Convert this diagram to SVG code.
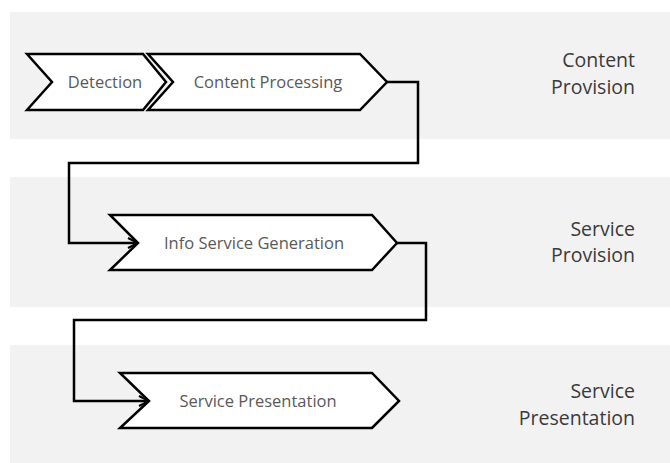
<svg xmlns="http://www.w3.org/2000/svg" width="670" height="463" viewBox="0 0 670 463">
<style>
.band{fill:#f2f2f2;}
.node{fill:#ffffff;stroke:#000000;stroke-width:2.5;stroke-linejoin:miter;}
.ntext{font-family:"Open Sans","Liberation Sans",sans-serif;font-size:16.5px;fill:#595959;text-anchor:middle;}
.ltext{font-family:"Open Sans","Liberation Sans",sans-serif;font-size:19.5px;fill:#3a3a3a;text-anchor:end;}
.conn{fill:none;stroke:#000000;stroke-width:2.5;}
</style>
<defs>
<marker id="arr" viewBox="0 0 12 12" refX="11" refY="6" markerWidth="12" markerHeight="12" markerUnits="userSpaceOnUse" orient="auto">
<path d="M1,1 L11,6 L1,11" fill="none" stroke="#000" stroke-width="2"/>
</marker>
</defs>
<g id="bands">
<rect class="band" x="10" y="12" width="660" height="127"/>
<rect class="band" x="10" y="177" width="660" height="130"/>
<rect class="band" x="10" y="345" width="660" height="118"/>
</g>
<g id="lane-labels">
<text class="ltext" x="635" y="67">Content</text>
<text class="ltext" x="635" y="94">Provision</text>
<text class="ltext" x="635" y="236">Service</text>
<text class="ltext" x="635" y="262">Provision</text>
<text class="ltext" x="635" y="398">Service</text>
<text class="ltext" x="635" y="425">Presentation</text>
</g>
<g id="connectors">
<polyline class="conn" points="387,82 418,82 418,163 69,163 69,243 138,243" marker-end="url(#arr)"/>
<polyline class="conn" points="397,243 426,243 426,320 74,320 74,401 149,401" marker-end="url(#arr)"/>
</g>
<g id="node-detection">
<polygon class="node" points="27,54 143,54 166,82 143,110 27,110 52,82"/>
<text class="ntext" x="105" y="88">Detection</text>
</g>
<g id="node-content-processing">
<polygon class="node" points="148,54 360,54 387,82 360,110 148,110 173,82"/>
<text class="ntext" x="268" y="88">Content Processing</text>
</g>
<g id="node-info-service-generation">
<polygon class="node" points="110,215 372,215 397,243 372,270 110,270 138,243"/>
<text class="ntext" x="254" y="249">Info Service Generation</text>
</g>
<g id="node-service-presentation">
<polygon class="node" points="120,373 372,373 399,401 372,428 120,428 149,401"/>
<text class="ntext" x="258" y="407">Service Presentation</text>
</g>
</svg>
